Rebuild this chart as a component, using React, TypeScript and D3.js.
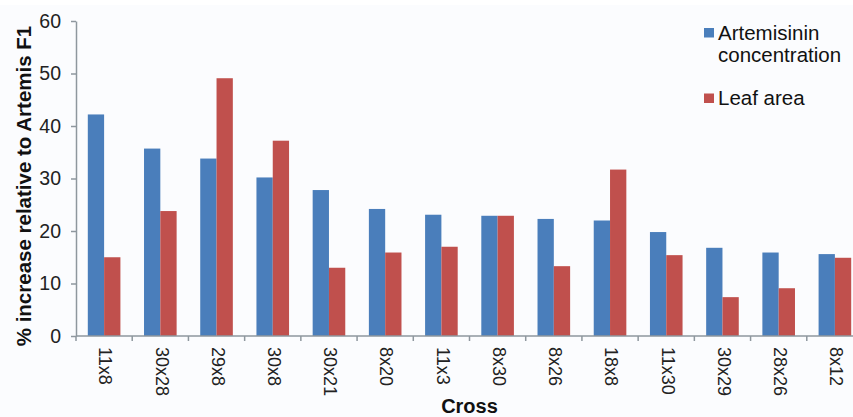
import { axisLeft, range, scaleBand, scaleLinear, select } from "d3";
import { useEffect, useRef } from "react";

const categories = [
  "11x8", "30x28", "29x8", "30x8", "30x21", "8x20", "11x3",
  "8x30", "8x26", "18x8", "11x30", "30x29", "28x26", "8x12",
];
const artemisinin = [42.2, 35.7, 33.8, 30.2, 27.8, 24.2, 23.1, 22.9, 22.3, 22.0, 19.8, 16.8, 15.9, 15.6];
const leafArea = [15.0, 23.8, 49.1, 37.2, 13.0, 15.9, 17.0, 22.9, 13.3, 31.7, 15.4, 7.4, 9.1, 14.9];
const yTicks = [0, 10, 20, 30, 40, 50, 60];
const seriesNames = ["Artemisinin concentration", "Leaf area"];

const BLUE = "#4a7ebb";
const RED = "#c0504d";
const AXIS = "#8e979e";
const FONT = "'Liberation Sans', Arial, sans-serif";

const width = 853;
const height = 417;
const plot = { left: 76, right: 863, top: 21, bottom: 336 };

const App = () => {
  const yAxisRef = useRef<SVGGElement>(null);

  const y = scaleLinear().domain([0, 60]).range([plot.bottom, plot.top]);
  const x = scaleBand()
    .domain(categories)
    .range([plot.left, plot.right])
    .paddingInner(0.42)
    .paddingOuter(0.21);
  const sub = scaleBand().domain(["a", "b"]).range([0, x.bandwidth()]);
  const edges = scaleLinear().domain([0, categories.length]).range([plot.left, plot.right]);

  useEffect(() => {
    if (!yAxisRef.current) return;
    const g = select(yAxisRef.current);
    g.selectAll("*").remove();
    g.call(axisLeft(y).tickValues(yTicks).tickSize(5).tickSizeOuter(0).tickPadding(10));
    g.select(".domain").attr("stroke", AXIS).attr("stroke-width", 1.5);
    g.selectAll(".tick line").attr("stroke", AXIS).attr("stroke-width", 1.5);
    g.selectAll(".tick text")
      .attr("fill", "#222")
      .style("font-size", "19.5px")
      .style("font-family", FONT);
  }, []);

  return (
    <svg
      width={width}
      height={height}
      style={{ position: "absolute", left: 0, top: 0, background: "#fbfcfe" }}
      fontFamily={FONT}
    >
      <rect x={0} y={0} width={width} height={5} fill="#ffffff" />
      {categories.map((c, i) => (
        <g key={c}>
          <rect
            x={(x(c) ?? 0) + (sub("a") ?? 0)}
            y={y(artemisinin[i])}
            width={sub.bandwidth()}
            height={plot.bottom - y(artemisinin[i])}
            fill={BLUE}
          />
          <rect
            x={(x(c) ?? 0) + (sub("b") ?? 0)}
            y={y(leafArea[i])}
            width={sub.bandwidth()}
            height={plot.bottom - y(leafArea[i])}
            fill={RED}
          />
          <text
            transform={`translate(${(x(c) ?? 0) + x.bandwidth() / 2}, 347) rotate(90)`}
            textAnchor="start"
            dominantBaseline="middle"
            fontSize="18px"
            fill="#222"
          >
            {c}
          </text>
        </g>
      ))}

      {/* x axis, ticks sit on the category boundaries */}
      <line x1={plot.left} x2={plot.right} y1={plot.bottom} y2={plot.bottom} stroke={AXIS} strokeWidth={1.5} />
      {range(categories.length + 1).map((i) => (
        <line
          key={`xt-${i}`}
          x1={edges(i)}
          x2={edges(i)}
          y1={plot.bottom}
          y2={plot.bottom + 5}
          stroke={AXIS}
          strokeWidth={1.5}
        />
      ))}

      <g ref={yAxisRef} transform={`translate(${plot.left}, 0)`} />

      <text
        transform={`translate(31, 186) rotate(-90)`}
        textAnchor="middle"
        fontSize="20.5px"
        fontWeight="bold"
        fill="#111"
      >
        % increase relative to Artemis F1
      </text>
      <text x={469.5} y={413} textAnchor="middle" fontSize="20px" fontWeight="bold" fill="#111">
        Cross
      </text>

      {/* legend */}
      <rect x={704} y={28} width={10} height={9.5} fill={BLUE} />
      <text x={718} y={40} fontSize="20.5px" fill="#111">
        <tspan x={718}>{seriesNames[0].split(" ")[0]}</tspan>
        <tspan x={718} dy={22}>{seriesNames[0].split(" ")[1]}</tspan>
      </text>
      <rect x={704} y={93.5} width={10} height={9.5} fill={RED} />
      <text x={718} y={105} fontSize="20.5px" fill="#111">
        {seriesNames[1]}
      </text>
    </svg>
  );
};

export default App;
